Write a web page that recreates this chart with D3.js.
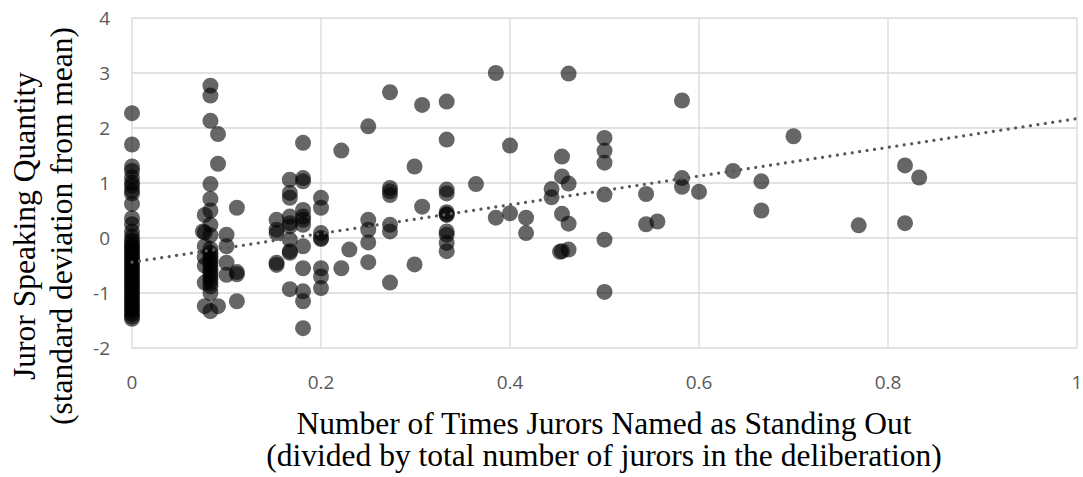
<!DOCTYPE html>
<html><head><meta charset="utf-8">
<script src="https://cdn.jsdelivr.net/npm/d3@7/dist/d3.min.js"></script>
<style>html,body{margin:0;padding:0;background:#fff;}</style>
</head><body>
<svg id="chart" width="1083" height="477"></svg>
<script>
const xTicks = [0, 0.2, 0.4, 0.6, 0.8, 1];
const yTicks = [-2, -1, 0, 1, 2, 3, 4];
const xTitle = ["Number of Times Jurors Named as Standing Out", "(divided by total number of jurors in the deliberation)"];
const yTitle = ["Juror Speaking Quantity", "(standard deviation from mean)"];
const trendX = [0, 1];
const trendY = [-0.44, 2.17];

// column at x = 0
const col0 = [2.27, 1.70, 1.30, 1.22, 1.10, 1.01, 0.95, 0.86, 0.81, 0.62, 0.36, 0.25, 0.12, 0.03,
  -0.04, -0.09, -0.14, -0.18, -0.22, -0.27, -0.31, -0.36, -0.40, -0.44, -0.49, -0.53, -0.58, -0.62,
  -0.67, -0.71, -0.76, -0.80, -0.84, -0.89, -0.93, -0.98, -1.02, -1.07, -1.11, -1.16, -1.20, -1.25,
  -1.29, -1.34, -1.38, -1.43, -1.47];
// other points [x, y]
const points = [
  [0.083, 2.77], [0.083, 2.59], [0.083, 2.13], [0.091, 1.89], [0.091, 1.35], [0.083, 0.98], [0.083, 0.71],
  [0.083, 0.50], [0.077, 0.42], [0.083, 0.24], [0.075, 0.12], [0.077, 0.10], [0.083, 0.05], [0.077, -0.15],
  [0.083, -0.20], [0.083, -0.27], [0.083, -0.33], [0.083, -0.39], [0.083, -0.45], [0.083, -0.51],
  [0.083, -0.57], [0.083, -0.63], [0.083, -0.69], [0.083, -0.75], [0.083, -0.82], [0.083, -0.88],
  [0.077, -0.81], [0.077, -0.50], [0.077, -0.35], [0.083, -1.00], [0.077, -1.24], [0.091, -1.24], [0.083, -1.33],
  [0.100, 0.06], [0.100, -0.15], [0.100, -0.45], [0.100, -0.67], [0.111, 0.55], [0.111, -0.62],
  [0.111, -0.66], [0.111, -1.15],
  [0.153, 0.33], [0.153, 0.15], [0.153, 0.09], [0.153, -0.45], [0.153, -0.49],
  [0.167, 1.06], [0.167, 0.82], [0.167, 0.73], [0.167, 0.39], [0.167, 0.27], [0.167, 0.21], [0.167, -0.03],
  [0.167, -0.24], [0.167, -0.27], [0.167, -0.93],
  [0.181, 1.73], [0.181, 1.09], [0.181, 1.03], [0.181, 0.51], [0.181, 0.39], [0.181, 0.33], [0.181, 0.24],
  [0.181, -0.15], [0.181, -0.55], [0.181, -0.97], [0.181, -1.15], [0.181, -1.64],
  [0.200, 0.73], [0.200, 0.55], [0.200, 0.09], [0.200, 0.00], [0.200, -0.02], [0.200, -0.55], [0.200, -0.70], [0.200, -0.91],
  [0.2215, 1.59], [0.2215, -0.55], [0.230, -0.21],
  [0.250, 2.03], [0.250, 0.33], [0.250, 0.15], [0.250, -0.08], [0.250, -0.44],
  [0.273, 2.65], [0.273, 0.91], [0.273, 0.85], [0.273, 0.78], [0.273, 0.24], [0.273, 0.12], [0.273, -0.81],
  [0.299, 1.30], [0.299, -0.48],
  [0.307, 2.42], [0.307, 0.57],
  [0.333, 2.48], [0.333, 1.79], [0.333, 0.88], [0.333, 0.81], [0.333, 0.47], [0.333, 0.43], [0.333, 0.42],
  [0.333, 0.12], [0.333, 0.06], [0.333, -0.09], [0.333, -0.24],
  [0.364, 0.98], [0.385, 3.00], [0.385, 0.37], [0.400, 1.68], [0.400, 0.45],
  [0.417, 0.37], [0.417, 0.09],
  [0.444, 0.89], [0.444, 0.74],
  [0.455, 1.48], [0.455, 1.12], [0.455, 0.44], [0.455, -0.24], [0.453, -0.25], [0.462, 2.99], [0.462, 0.99],
  [0.462, 0.26], [0.462, -0.21],
  [0.500, 1.82], [0.500, 1.59], [0.500, 1.37], [0.500, 0.79], [0.500, -0.03], [0.500, -0.98],
  [0.544, 0.80], [0.544, 0.25], [0.556, 0.30],
  [0.582, 2.50], [0.582, 1.09], [0.582, 0.93], [0.600, 0.84], [0.636, 1.22],
  [0.666, 1.03], [0.666, 0.50], [0.700, 1.85], [0.769, 0.23],
  [0.818, 1.32], [0.818, 0.27], [0.833, 1.10]
];

const svg = d3.select("#chart");
const mLeft = 132, mRight = 1077, mTop = 18, mBottom = 348;
const x = d3.scaleLinear().domain([0, 1]).range([mLeft, mRight]);
const y = d3.scaleLinear().domain([-2, 4]).range([mBottom, mTop]);

// gridlines
svg.append("g").selectAll("line").data(yTicks).join("line")
  .attr("x1", mLeft).attr("x2", mRight).attr("y1", d => y(d)).attr("y2", d => y(d))
  .attr("stroke", "#d9d9d9").attr("stroke-width", 1.3);
svg.append("g").selectAll("line").data(xTicks).join("line")
  .attr("y1", mTop).attr("y2", mBottom).attr("x1", d => x(d)).attr("x2", d => x(d))
  .attr("stroke", "#d9d9d9").attr("stroke-width", 1.3);

// tick labels
svg.append("g").selectAll("text").data(yTicks).join("text")
  .attr("x", 110).attr("y", d => y(d)).attr("dy", "0.36em").attr("text-anchor", "end")
  .attr("font-family", "'Open Sans', sans-serif").attr("font-size", 19).attr("fill", "#595959")
  .text(d => d);
svg.append("g").selectAll("text").data(xTicks).join("text")
  .attr("x", d => x(d)).attr("y", 382).attr("dy", "0.36em").attr("text-anchor", "middle")
  .attr("font-family", "'Open Sans', sans-serif").attr("font-size", 19).attr("fill", "#595959")
  .text(d => d);

// points
const all = col0.map(v => [0, v]).concat(points);
svg.append("g").selectAll("circle").data(all).join("circle")
  .attr("cx", d => x(d[0])).attr("cy", d => y(d[1])).attr("r", 8)
  .attr("fill", "#000").attr("fill-opacity", 0.6);

// trendline
svg.append("path")
  .attr("d", d3.line().x(d => x(d[0])).y(d => y(d[1]))(trendX.map((v, i) => [v, trendY[i]])))
  .attr("fill", "none").attr("stroke", "#595959").attr("stroke-width", 3.2)
  .attr("stroke-linecap", "round").attr("stroke-dasharray", "0.01 7.5");

// axis titles
svg.append("g").selectAll("text").data(xTitle).join("text")
  .attr("x", 604).attr("y", (d, i) => 434 + i * 32).attr("text-anchor", "middle")
  .attr("font-family", "'Liberation Serif', 'Times New Roman', serif").attr("font-size", 31.5).attr("fill", "#000")
  .text(d => d);
svg.append("g").selectAll("text").data(yTitle).join("text")
  .attr("transform", (d, i) => `translate(${35 + i * 37},226) rotate(-90)`).attr("text-anchor", "middle")
  .attr("font-family", "'Liberation Serif', 'Times New Roman', serif").attr("font-size", 31.5).attr("fill", "#000")
  .text(d => d);
</script>
</body></html>
